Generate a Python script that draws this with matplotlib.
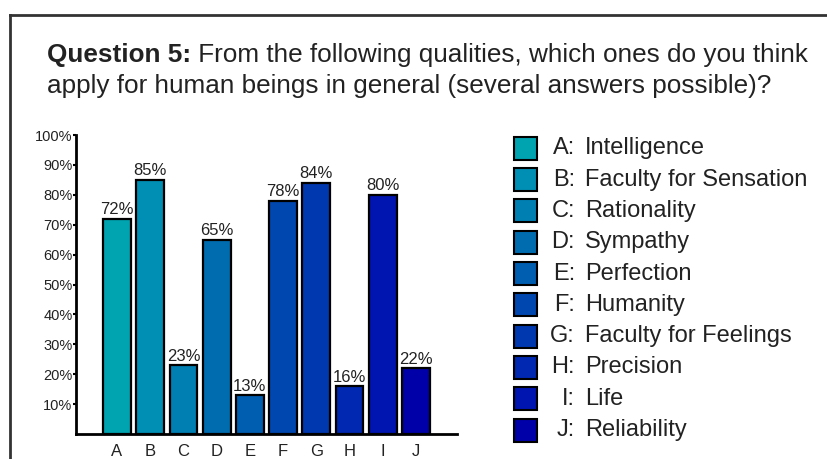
import matplotlib.pyplot as plt
from matplotlib.patches import Rectangle

plt.rcParams["font.family"] = ["Liberation Sans", "DejaVu Sans"]

letters = ["A", "B", "C", "D", "E", "F", "G", "H", "I", "J"]
names = ["Intelligence", "Faculty for Sensation", "Rationality", "Sympathy",
         "Perfection", "Humanity", "Faculty for Feelings", "Precision",
         "Life", "Reliability"]
values = [72, 85, 23, 65, 13, 78, 84, 16, 80, 22]
colors = ["#00a3b0", "#008fb4", "#0080b2", "#006cb0", "#005eb0",
          "#0048b0", "#0038b0", "#0028b0", "#0014b0", "#0000a8"]
yticks = [10, 20, 30, 40, 50, 60, 70, 80, 90, 100]

W, H = 828, 459
TEXT = "#222222"
fig = plt.figure(figsize=(W / 100, H / 100), dpi=100)

# outer frame (runs off the right and bottom edges)
fig.add_artist(plt.Line2D([9.5 / W, 9.5 / W], [0, 1 - 15 / H], color="#333333", lw=2))
fig.add_artist(plt.Line2D([9.5 / W, 1], [1 - 15 / H, 1 - 15 / H], color="#333333", lw=2))

# title: bold lead-in, rest placed right after it
head = fig.text(47 / W, 1 - 62 / H, "Question 5:", fontsize=18.8, fontweight="bold", color=TEXT)
fig.canvas.draw()
hb = head.get_window_extent()
fig.text(hb.x1 / W, 1 - 62 / H, " From the following qualities, which ones do you think",
         fontsize=18.8, color=TEXT)
fig.text(47 / W, 1 - 93 / H, "apply for human beings in general (several answers possible)?",
         fontsize=18.8, color=TEXT)

ax = fig.add_axes([76 / W, 25 / H, (457 - 76) / W, (434 - 135) / H])
x = list(range(len(values)))
ax.bar(x, values, width=0.84, color=colors, edgecolor="black", linewidth=1.6)
for xi, v in zip(x, values):
    ax.text(xi, v + 0.5, f"{v}%", ha="center", va="bottom", fontsize=12, color=TEXT)

ax.set_xlim(-1.235, 10.235)
ax.set_ylim(0, 100)
ax.set_yticks(yticks)
ax.set_yticklabels([f"{t}%" for t in yticks], fontsize=10.5, color=TEXT)
ax.set_xticks(x)
ax.set_xticklabels(letters, fontsize=12, color=TEXT)
ax.tick_params(axis="x", length=0, pad=7)
ax.tick_params(axis="y", length=2.5, width=1.5, pad=0)
for s in ["top", "right"]:
    ax.spines[s].set_visible(False)
for s in ["left", "bottom"]:
    ax.spines[s].set_linewidth(2)

# legend, drawn by hand so the names line up in a column
y0, dy = 148.3, 31.3
for i, (let, name, c) in enumerate(zip(letters, names, colors)):
    yc = y0 + i * dy
    fig.add_artist(Rectangle((514 / W, 1 - (yc + 11.5) / H), 23 / W, 23 / H,
                             facecolor=c, edgecolor="black", linewidth=1.5,
                             transform=fig.transFigure))
    fig.text(575 / W, 1 - yc / H, f"{let}:", fontsize=17, ha="right", va="center", color=TEXT)
    fig.text(585 / W, 1 - yc / H, name, fontsize=17, ha="left", va="center", color=TEXT)

fig.savefig("out.png", dpi=100)
